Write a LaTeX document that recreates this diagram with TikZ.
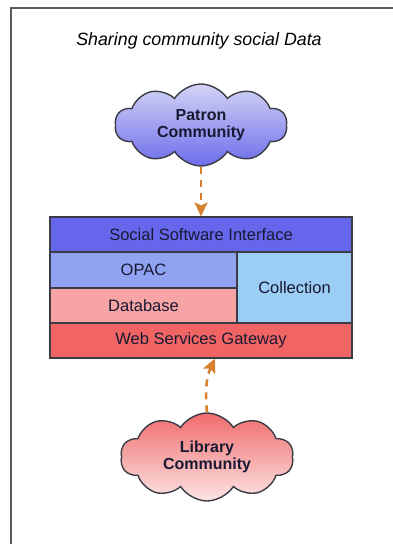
\documentclass[tikz,border=0pt]{standalone}
\usepackage{fontspec}
\setmainfont{Liberation Sans}
\usetikzlibrary{shapes.symbols,arrows.meta}

\definecolor{framegray}{RGB}{90,90,90}
\definecolor{edgegray}{RGB}{60,60,70}
\definecolor{inktext}{RGB}{25,25,50}
\definecolor{ssiblue}{RGB}{102,102,236}
\definecolor{opacblue}{RGB}{143,163,242}
\definecolor{dbpink}{RGB}{246,164,164}
\definecolor{collsky}{RGB}{156,205,245}
\definecolor{wsgred}{RGB}{240,100,100}
\definecolor{flowor}{RGB}{214,128,48}
\definecolor{patrontop}{RGB}{212,212,246}
\definecolor{patronbot}{RGB}{108,108,236}
\definecolor{librarytop}{RGB}{240,108,108}
\definecolor{librarybot}{RGB}{252,228,228}

\begin{document}
\begin{tikzpicture}[x=1pt,y=-1pt,
  frameline/.style={draw=framegray,line width=2.2pt},
  layer/.style={draw=edgegray,line width=1.1pt,inner sep=0pt,
    font=\fontsize{16.5}{18}\selectfont,text=inktext},
  cloudnode/.style={cloud,cloud puffs=10,cloud puff arc=115,cloud ignores aspect,
    draw=edgegray,line width=1.4pt,inner sep=0pt,align=center,
    font=\bfseries\fontsize{16}{17}\selectfont,text=inktext},
  flow/.style={draw=flowor,line width=2.6pt,dash pattern=on 7pt off 6pt,
    -{Stealth[length=14pt,width=13pt,inset=3pt]}}
]
\useasboundingbox (0,0) rectangle (393,544);

% outer frame (continues past the right and bottom edges)
\draw[frameline] (11,546) -- (11,8) -- (395,8);

% title
\node[font=\itshape\fontsize{17.8}{19}\selectfont] (title) at (199,41)
  {Sharing community social Data};

% clouds
\node[cloudnode,top color=patrontop,bottom color=patronbot,
  minimum width=172pt,minimum height=82pt] (patron) at (201,125)
  {Patron\\Community};
\node[cloudnode,top color=librarytop,bottom color=librarybot,
  minimum width=173pt,minimum height=88pt] (library) at (207,457)
  {Library\\Community};

% layered stack
\node[layer,fill=ssiblue,minimum width=302pt,minimum height=35pt]
  (ssi) at (201,234.5) {Social Software Interface};
\node[layer,fill=opacblue,minimum width=187pt,minimum height=36pt]
  (opac) at (143.5,270) {OPAC};
\node[layer,fill=dbpink,minimum width=187pt,minimum height=35pt]
  (db) at (143.5,305.5) {Database};
\node[layer,fill=collsky,minimum width=115pt,minimum height=71pt]
  (coll) at (294.5,287.5) {Collection};
\node[layer,fill=wsgred,minimum width=302pt,minimum height=35pt]
  (wsg) at (201,340.5) {Web Services Gateway};

% data flows
\draw[flow] (patron.south) -- (patron.south |- ssi.north);
\draw[flow] (library.north) to[out=95,in=-115] ([xshift=14pt]wsg.south);
\end{tikzpicture}
\end{document}
